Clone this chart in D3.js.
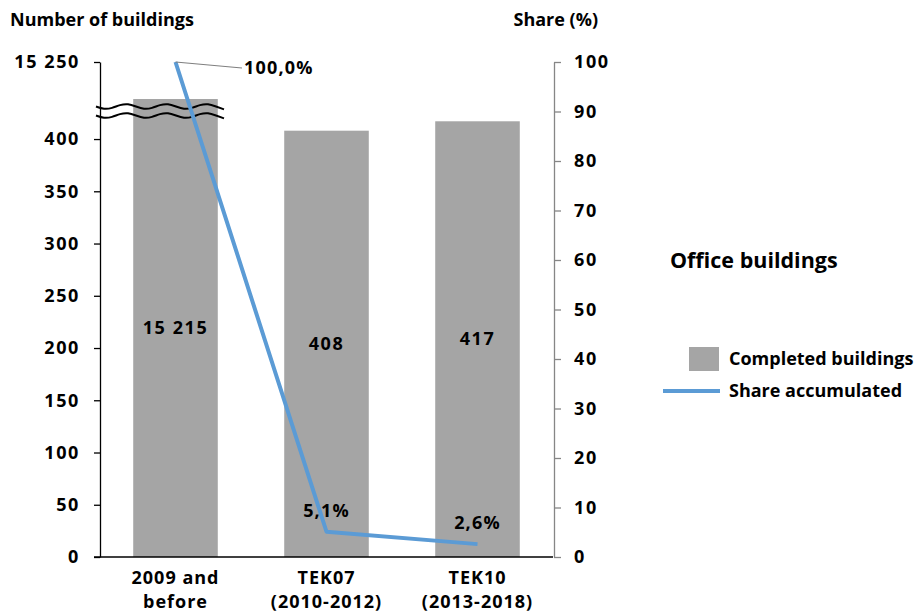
<!DOCTYPE html>
<html><head><meta charset="utf-8">
<script src="https://cdn.jsdelivr.net/npm/d3@7"></script>
<style>
body{margin:0;background:#fff;}
text{font-family:"Open Sans",Lato,sans-serif;font-weight:bold;fill:#000;}
</style></head>
<body><svg id="c" width="917" height="612"></svg>
<script>
const categories = ["2009 and|before", "TEK07|(2010-2012)", "TEK10|(2013-2018)"];
const completedBuildings = [15215, 408, 417];
const shareAccumulated = [100.0, 5.1, 2.6];
const leftTicks = [0, 50, 100, 150, 200, 250, 300, 350, 400, 15250];
const rightTicks = [0, 10, 20, 30, 40, 50, 60, 70, 80, 90, 100];

(function () {
const svg = d3.select("#c");
const pL = 100, pR = 553, pT = 62, pB = 557;
const FS = "18px", NUMLS = "1.6px";
const loc = d3.formatLocale({decimal: ",", thousands: " ", grouping: [3], currency: ["", ""]});
const fmtN = loc.format(",d");
const fmtP = v => loc.format(".1f")(v) + "%";

const x = d3.scaleBand().domain(categories).range([pL, pR]).paddingInner(0.44).paddingOuter(0.22);
// broken axis: lower segment linear (0..430), then jump to the top segment
const yL = d3.scaleLinear().domain([0, 430, 15215, 15250]).range([pB, 107.7, 99, pT]);
const yR = d3.scaleLinear().domain([0, 100]).range([pB, pT]);

// bars
svg.append("g").selectAll("rect").data(completedBuildings).join("rect")
  .attr("x", (d, i) => x(categories[i]))
  .attr("width", x.bandwidth())
  .attr("y", d => yL(d))
  .attr("height", d => pB - yL(d))
  .attr("fill", "#a5a5a5");

// left axis
const gL = svg.append("g").attr("transform", `translate(${pL},0)`)
  .call(d3.axisLeft(yL).tickValues(leftTicks).tickFormat(fmtN).tickSize(6).tickSizeOuter(0).tickPadding(14));
gL.select(".domain").attr("stroke", "#000").attr("stroke-width", 1.3);
gL.selectAll(".tick line").attr("stroke", "#000").attr("stroke-width", 1.3);
gL.selectAll("text").style("font-size", FS).style("font-family", "Open Sans").style("font-weight", "bold").style("letter-spacing", NUMLS);

// right axis
const gR = svg.append("g").attr("transform", `translate(${pR + 1},0)`)
  .call(d3.axisRight(yR).tickValues(rightTicks).tickFormat(d3.format("d")).tickSize(7).tickSizeOuter(0).tickPadding(13));
gR.select(".domain").attr("stroke", "#868686").attr("stroke-width", 1.3);
gR.selectAll(".tick line").attr("stroke", "#868686").attr("stroke-width", 1.3);
gR.selectAll("text").style("font-size", FS).style("font-family", "Open Sans").style("font-weight", "bold").style("letter-spacing", NUMLS);

// x axis line
svg.append("line").attr("x1", pL - 6).attr("x2", pR).attr("y1", pB).attr("y2", pB)
  .attr("stroke", "#000").attr("stroke-width", 1.3);

// x labels
categories.forEach(c => {
  const t = svg.append("text").attr("text-anchor", "middle").style("font-size", FS).style("letter-spacing", "1px")
    .attr("transform", `translate(${x(c) + x.bandwidth() / 2},584)`);
  c.split("|").forEach((s, j) => t.append("tspan").attr("x", 0).attr("y", j * 24).text(s));
});

// break marks
const wave = d3.line().curve(d3.curveBasis);
[106.5, 115.5].forEach(yy => {
  const pts = d3.range(0, 17).map(k => [96 + k * 8, yy + 3 * Math.sin(k * Math.PI / 2.5)]);
  svg.append("path").attr("d", wave(pts)).attr("fill", "none").attr("stroke", "#000").attr("stroke-width", 2);
});

// bar value labels
svg.append("g").selectAll("text").data(completedBuildings).join("text")
  .attr("x", (d, i) => x(categories[i]) + x.bandwidth() / 2)
  .attr("y", d => (yL(d) + pB) / 2)
  .attr("dy", "0.35em").attr("text-anchor", "middle").style("font-size", FS).style("letter-spacing", NUMLS)
  .text(d => fmtN(d));

// share line
const cx = i => x(categories[i]) + x.bandwidth() / 2;
svg.append("path").datum(shareAccumulated)
  .attr("d", d3.line().x((d, i) => cx(i)).y(d => yR(d)))
  .attr("fill", "none").attr("stroke", "#5b9bd5").attr("stroke-width", 4).attr("stroke-linejoin", "round");

// share labels
svg.append("line").attr("x1", cx(0)).attr("y1", yR(shareAccumulated[0]))
  .attr("x2", 242).attr("y2", 68).attr("stroke", "#7f7f7f").attr("stroke-width", 1.2);
svg.append("text").attr("x", 244).attr("y", 68).attr("dy", "0.35em").style("font-size", FS).style("letter-spacing", "1.2px")
  .text(fmtP(shareAccumulated[0]));
[1, 2].forEach(i => {
  svg.append("text").attr("x", cx(i)).attr("y", yR(shareAccumulated[i]) - 21).attr("dy", "0.35em")
    .attr("text-anchor", "middle").style("font-size", FS).style("letter-spacing", "1.2px").text(fmtP(shareAccumulated[i]));
});

// axis titles
svg.append("text").attr("x", 10).attr("y", 26).style("font-size", FS).text("Number of buildings");
svg.append("text").attr("x", 598).attr("y", 26).attr("text-anchor", "end").style("font-size", FS).text("Share (%)");

// title + legend
svg.append("text").attr("x", 670).attr("y", 268).style("font-size", "21.5px").text("Office buildings");
svg.append("rect").attr("x", 689).attr("y", 347).attr("width", 30).attr("height", 24).attr("fill", "#a5a5a5");
svg.append("text").attr("x", 729).attr("y", 365).style("font-size", FS).text("Completed buildings");
svg.append("line").attr("x1", 663).attr("x2", 720).attr("y1", 391).attr("y2", 391).attr("stroke", "#5b9bd5").attr("stroke-width", 4);
svg.append("text").attr("x", 729).attr("y", 397).style("font-size", FS).text("Share accumulated");
})();
</script></body></html>
